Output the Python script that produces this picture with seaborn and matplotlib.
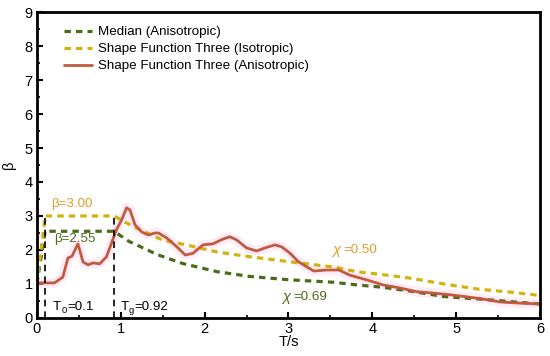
import matplotlib
matplotlib.use("Agg")
import matplotlib.pyplot as plt
import seaborn as sns
import pandas as pd

# values
median_T = [0, 0.1, 0.92, 1.1, 1.44, 1.74, 2.15, 2.54, 3.02, 3.53, 3.82, 4.13, 4.45, 4.85, 5.25, 5.64, 6.0]
median_beta = [1.0, 2.55, 2.55, 2.25, 1.86, 1.6, 1.36, 1.22, 1.12, 1.05, 0.97, 0.9, 0.79, 0.63, 0.56, 0.48, 0.41]

iso_T = [0, 0.1, 0.92, 1.05, 1.2, 1.5, 1.74, 2.15, 2.54, 3.02, 3.53, 3.82, 4.2, 4.45, 4.85, 5.25, 5.64, 6.0]
iso_beta = [1.0, 3.0, 3.0, 2.82, 2.63, 2.29, 2.17, 1.94, 1.8, 1.65, 1.5, 1.36, 1.25, 1.17, 1.0, 0.85, 0.76, 0.66]

aniso_T = [0, 0.21, 0.31, 0.37, 0.42, 0.49, 0.55, 0.61, 0.67, 0.75, 0.83, 0.89, 0.95, 1.01,
           1.07, 1.11, 1.17, 1.25, 1.33, 1.41, 1.45, 1.55, 1.67, 1.77, 1.86, 1.98, 2.10, 2.2,
           2.3, 2.38, 2.5, 2.62, 2.72, 2.84, 2.92, 3.02, 3.12, 3.18, 3.3, 3.46, 3.6, 3.73,
           3.93, 4.13, 4.33, 4.53, 4.73, 4.93, 5.13, 5.33, 5.52, 5.72, 6.0]
aniso_beta = [1.03, 1.03, 1.2, 1.76, 1.82, 2.18, 1.65, 1.56, 1.62, 1.59, 1.8, 2.2, 2.6, 2.88,
              3.24, 3.18, 2.74, 2.53, 2.44, 2.5, 2.5, 2.35, 2.09, 1.85, 1.9, 2.15, 2.18, 2.3,
              2.39, 2.3, 2.06, 1.97, 2.06, 2.15, 2.09, 1.9, 1.65, 1.56, 1.38, 1.41, 1.41, 1.26,
              1.12, 0.97, 0.88, 0.77, 0.73, 0.68, 0.62, 0.55, 0.47, 0.44, 0.41]

T0 = 0.1
Tg = 0.92

sns.set_style("ticks")
plt.rcParams['font.family'] = ['Liberation Sans', 'DejaVu Sans']
plt.rcParams['text.color'] = 'black'
plt.rcParams['axes.labelcolor'] = 'black'
plt.rcParams['xtick.color'] = 'black'
plt.rcParams['ytick.color'] = 'black'
plt.rcParams['axes.edgecolor'] = 'black'

green = '#4a6b1a'
yellow = '#d4b20c'
red = '#c25a3e'
orange = '#e39a2a'

fig = plt.figure(figsize=(5.5, 3.56), dpi=100)
ax = fig.add_axes([0.067, 0.107, 0.915, 0.859])

df_med = pd.DataFrame({'T': median_T, 'beta': median_beta})
df_iso = pd.DataFrame({'T': iso_T, 'beta': iso_beta})
df_ani = pd.DataFrame({'T': aniso_T, 'beta': aniso_beta})

kw = dict(estimator=None, errorbar=None, sort=False)
# faint pink glow under the anisotropic curve
sns.lineplot(data=df_ani, x='T', y='beta', ax=ax, color='#ffd6f0', lw=7, alpha=0.45, **kw)

sns.lineplot(data=df_med, x='T', y='beta', ax=ax, color=green, lw=2.3,
             linestyle=(0, (2, 1.6)), label='Median (Anisotropic)', **kw)
sns.lineplot(data=df_iso, x='T', y='beta', ax=ax, color=yellow, lw=2.3,
             linestyle=(0, (2, 1.6)), label='Shape Function Three (Isotropic)', **kw)
sns.lineplot(data=df_ani, x='T', y='beta', ax=ax, color=red, lw=2.0,
             label='Shape Function Three (Anisotropic)', **kw)

# characteristic period markers
ax.plot([T0, T0], [0, 3.0], color='black', lw=1.2, linestyle=(0, (4, 3)))
ax.plot([Tg, Tg], [0, 3.0], color='black', lw=1.2, linestyle=(0, (4, 3)))

fs = 9.6
sub = fs * 0.7
ax.text(0.17, 3.35, 'β=3.00', color=orange, fontsize=fs, va='center')
ax.text(0.21, 2.32, 'β=2.55', color=green, fontsize=fs, va='center')
ax.text(0.19, 0.33, 'T', color='black', fontsize=fs, va='center')
ax.text(0.29, 0.21, '0', color='black', fontsize=sub, va='center')
ax.text(0.36, 0.33, '=0.1', color='black', fontsize=fs, va='center')
ax.text(1.0, 0.33, 'T', color='black', fontsize=fs, va='center')
ax.text(1.1, 0.21, 'g', color='black', fontsize=sub, va='center')
ax.text(1.16, 0.33, '=0.92', color='black', fontsize=fs, va='center')
ax.text(3.52, 2.0, 'χ', color=orange, fontsize=fs + 1, va='center', style='italic')
ax.text(3.66, 2.0, '=0.50', color=orange, fontsize=fs, va='center')
ax.text(2.92, 0.62, 'χ', color=green, fontsize=fs + 1, va='center', style='italic')
ax.text(3.06, 0.62, '=0.69', color=green, fontsize=fs, va='center')

ax.set_xlim(0, 6)
ax.set_ylim(0, 9)
ax.set_xticks(range(0, 7))
ax.set_yticks(range(0, 10))
ax.set_xticks([x + 0.5 for x in range(6)], minor=True)
ax.set_yticks([y + 0.5 for y in range(9)], minor=True)
ax.tick_params(which='major', direction='in', length=4, width=1.5, labelsize=10.5, pad=3)
ax.tick_params(which='minor', direction='in', length=2, width=1.2)
ax.set_xlabel('T/s', fontsize=10.5, labelpad=-1)
ax.set_ylabel('β', fontsize=10.5, labelpad=6)
for s in ax.spines.values():
    s.set_linewidth(2.0)
    s.set_visible(True)

leg = ax.legend(loc='upper left', bbox_to_anchor=(0.035, 0.985), frameon=False,
                fontsize=fs, handlelength=2.1, handletextpad=0.45,
                borderaxespad=0.3, labelspacing=0.35)

fig.savefig('out.png', dpi=100)
